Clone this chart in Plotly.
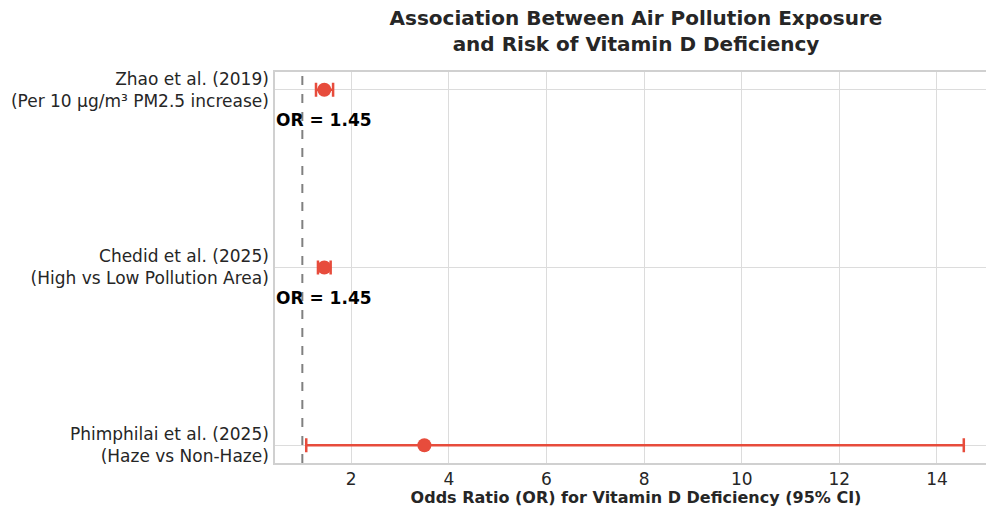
import plotly.graph_objects as go

studies = ["Zhao et al. (2019)<br>(Per 10 μg/m³ PM2.5 increase)",
           "Chedid et al. (2025)<br>(High vs Low Pollution Area)",
           "Phimphilai et al. (2025)<br>(Haze vs Non-Haze)"]
odds_ratio = [1.45, 1.45, 3.50]
ci_low = [1.28, 1.32, 1.08]
ci_high = [1.63, 1.58, 14.55]
positions = [0, 1, 2]
x_ticks = [2, 4, 6, 8, 10, 12, 14]

red = "#e74c3c"
fig = go.Figure()
fig.add_trace(go.Scatter(
    x=odds_ratio, y=positions, mode="markers",
    marker=dict(color=red, size=14, symbol="circle"),
    error_x=dict(type="data", symmetric=False,
                 array=[h - o for h, o in zip(ci_high, odds_ratio)],
                 arrayminus=[o - l for o, l in zip(odds_ratio, ci_low)],
                 color=red, thickness=2.5, width=7),
    showlegend=False, hoverinfo="skip"))

fig.add_shape(type="line", x0=1, x1=1, xref="x", y0=0, y1=1, yref="paper",
              line=dict(color="#808080", width=2, dash="dash"), layer="below")

for o, p in zip(odds_ratio, positions):
    fig.add_annotation(x=o, y=p + 0.17, xref="x", yref="y",
                       text=f"<b>OR = {o:.2f}</b>", showarrow=False,
                       font=dict(size=17, color="black", family="DejaVu Sans"),
                       xanchor="center", yanchor="middle")

# the plot area runs slightly past the window's right edge, as in the reference
fig.update_layout(
    width=997, height=507,
    margin=dict(l=275, r=0, t=72, b=44),
    paper_bgcolor="white", plot_bgcolor="white",
    font=dict(family="DejaVu Sans", color="#262626"),
    title=dict(text="<b>Association Between Air Pollution Exposure<br>and Risk of Vitamin D Deficiency</b>",
               x=0.5, xref="paper", xanchor="center",
               y=1 - 25 / 507, yref="container", yanchor="top",
               font=dict(size=20, color="#262626", family="DejaVu Sans")),
)
fig.update_xaxes(range=[0.44, 15.23], tickvals=x_ticks, ticks="",
                 showgrid=True, gridcolor="#dcdcdc", gridwidth=1, zeroline=False,
                 showline=True, linecolor="#d0d0d0", linewidth=1.5, mirror=True,
                 tickfont=dict(size=17, color="#262626"),
                 title=dict(text="<b>Odds Ratio (OR) for Vitamin D Deficiency (95% CI)</b>",
                            font=dict(size=16, color="#262626"), standoff=4))
fig.update_yaxes(range=[2.1, -0.1], tickvals=positions, ticktext=studies, ticks="",
                 showgrid=True, gridcolor="#dcdcdc", gridwidth=1, zeroline=False,
                 showline=True, linecolor="#d0d0d0", linewidth=1.5, mirror=False,
                 tickfont=dict(size=17, color="#262626"), ticklabelstandoff=1)

fig.write_html(
    "out.html",
    config={"displayModeBar": False},
    post_script=("document.body.style.margin='0';"
                 "document.body.style.overflow='hidden';"
                 "document.documentElement.style.overflow='hidden';"))
